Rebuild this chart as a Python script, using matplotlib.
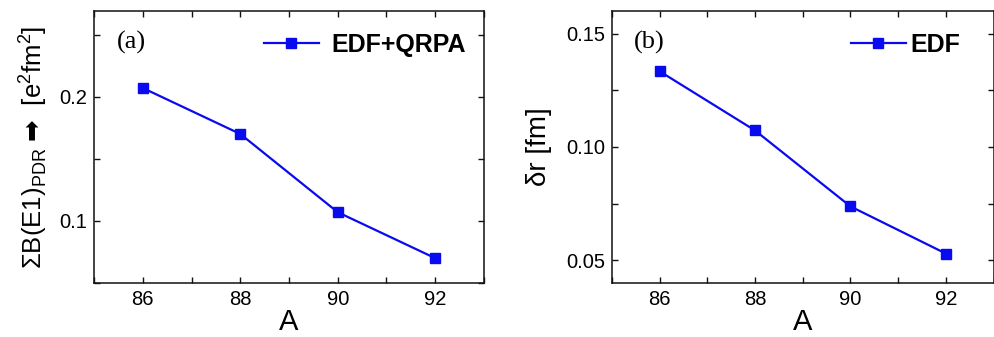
import matplotlib
matplotlib.use("Agg")
import matplotlib.pyplot as plt
from matplotlib.ticker import MultipleLocator

mass_numbers = [86, 88, 90, 92]
b_e1_pdr = [0.207, 0.170, 0.107, 0.070]
delta_r = [0.1334, 0.1073, 0.0738, 0.0530]
x_ticks = [86, 88, 90, 92]

plt.rcParams['font.family'] = ['Liberation Sans', 'DejaVu Sans']
plt.rcParams['mathtext.fontset'] = 'dejavusans'

fig = plt.figure(figsize=(9.95, 3.37), dpi=100)
ax1 = fig.add_axes([0.0945, 0.1602, 0.3919, 0.8072])
ax2 = fig.add_axes([0.6150, 0.1602, 0.3835, 0.8072])

blue = '#0a0af0'
tick_fs = 14.5

def style(ax):
    for s in ax.spines.values():
        s.set_linewidth(1.1)
        s.set_color('#111111')
    ax.tick_params(which='both', direction='in', top=True, right=True,
                   labelsize=tick_fs, width=1.0, color='#111111', pad=5)
    ax.tick_params(which='major', length=4.5)
    ax.tick_params(which='minor', length=4.5)
    ax.set_xlim(85, 93)
    ax.set_xticks(x_ticks)
    ax.xaxis.set_minor_locator(MultipleLocator(1))
    ax.set_xlabel('A', fontsize=21, labelpad=-1)

# Panel (a)
ax1.plot(mass_numbers, b_e1_pdr, '-s', color=blue, lw=1.6, ms=7,
         label='EDF+QRPA')
style(ax1)
ax1.set_ylim(0.05, 0.269)
ax1.set_yticks([0.1, 0.2])
ax1.set_yticklabels(['0.1', '0.2'])
ax1.yaxis.set_minor_locator(MultipleLocator(0.05))
ax1.set_ylabel('ΣB(E1)$_{\\mathregular{PDR}}$ $\u27a1$  [e$^{\\mathregular{2}}$fm$^{\\mathregular{2}}$]',
               fontsize=18.5, labelpad=7)
ax1.text(0.058, 0.885, '(a)', transform=ax1.transAxes, fontsize=19,
         family='Liberation Serif', va='center', ha='left')
ax1.legend(loc='upper right', bbox_to_anchor=(0.998, 0.985), frameon=False,
           prop={'weight': 'bold', 'size': 18}, handlelength=2.2,
           handletextpad=0.5, borderaxespad=0.3)

# Panel (b)
ax2.plot(mass_numbers, delta_r, '-s', color=blue, lw=1.6, ms=7, label='EDF')
style(ax2)
ax2.set_ylim(0.04, 0.16)
ax2.set_yticks([0.05, 0.10, 0.15])
ax2.set_yticklabels(['0.05', '0.10', '0.15'])
ax2.yaxis.set_minor_locator(MultipleLocator(0.025))
ax2.set_ylabel('δr [fm]', fontsize=20, labelpad=10)
ax2.text(0.058, 0.885, '(b)', transform=ax2.transAxes, fontsize=19,
         family='Liberation Serif', va='center', ha='left')
ax2.legend(loc='upper right', bbox_to_anchor=(0.96, 0.985), frameon=False,
           prop={'weight': 'bold', 'size': 18}, handlelength=2.2,
           handletextpad=0.2, borderaxespad=0.3)

fig.savefig('out.png', dpi=100)
